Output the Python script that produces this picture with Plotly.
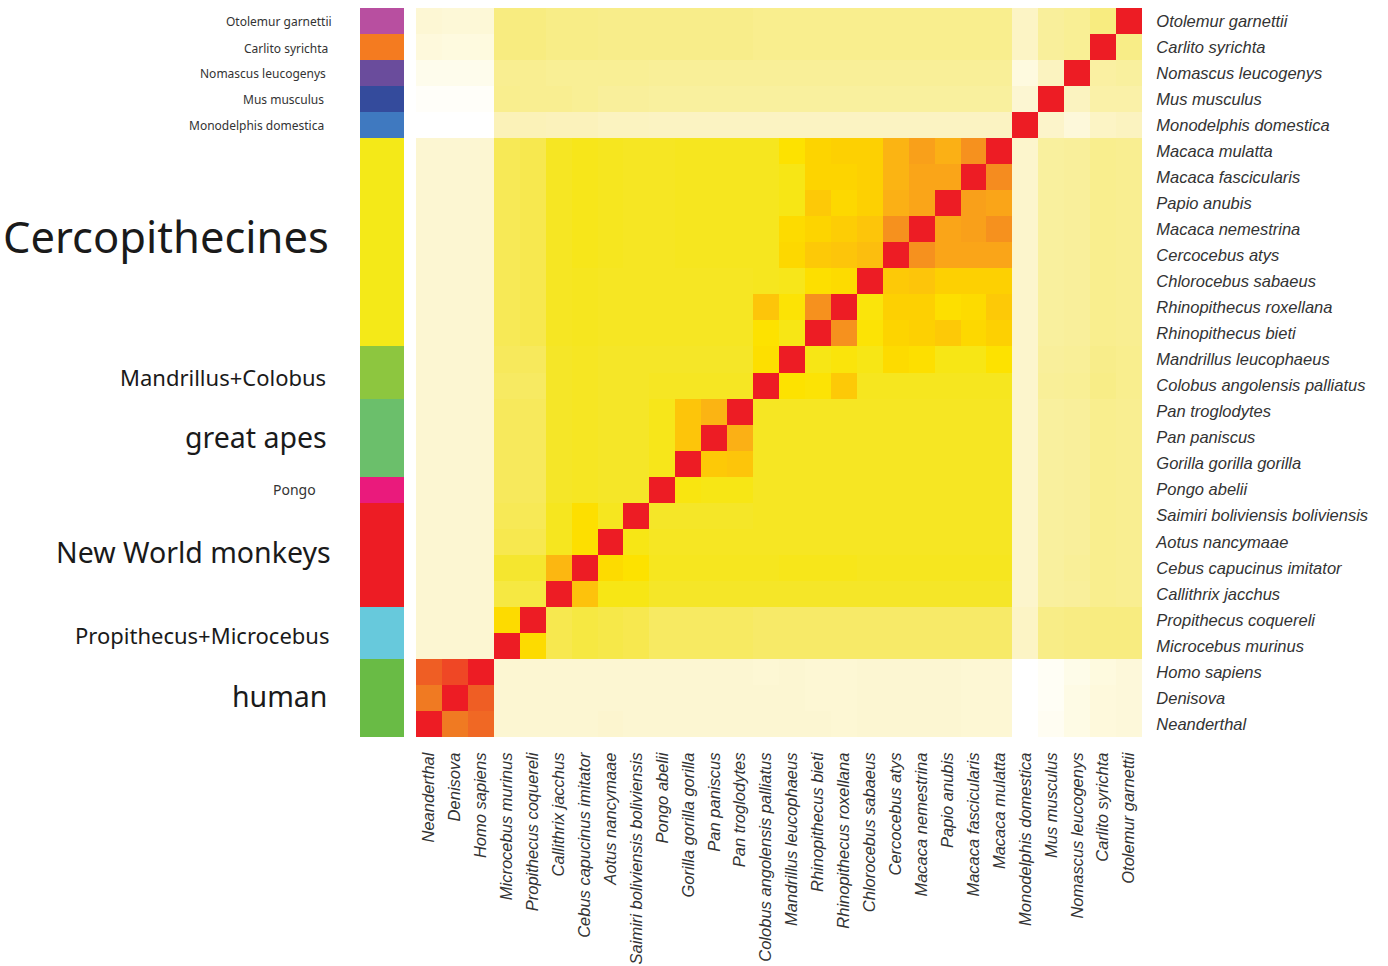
import plotly.graph_objects as go

# species order: columns left->right, rows bottom->top
species = [
    "Neanderthal", "Denisova", "Homo sapiens", "Microcebus murinus",
    "Propithecus coquereli", "Callithrix jacchus", "Cebus capucinus imitator",
    "Aotus nancymaae", "Saimiri boliviensis boliviensis", "Pongo abelii",
    "Gorilla gorilla gorilla", "Pan paniscus", "Pan troglodytes",
    "Colobus angolensis palliatus", "Mandrillus leucophaeus",
    "Rhinopithecus bieti", "Rhinopithecus roxellana", "Chlorocebus sabaeus",
    "Cercocebus atys", "Macaca nemestrina", "Papio anubis",
    "Macaca fascicularis", "Macaca mulatta", "Monodelphis domestica",
    "Mus musculus", "Nomascus leucogenys", "Carlito syrichta",
    "Otolemur garnettii",
]

# similarity matrix, row i = species[i] (bottom to top), column j = species[j]
similarity = [
    [1.00,0.89,0.91, 0.15,0.15, 0.15,0.15,0.16,0.15, 0.15,0.15,0.15,0.15, 0.15,0.15,0.15,0.14,0.15,0.15,0.15,0.15,0.14,0.14, 0.00,0.04,0.08,0.11,0.12],
    [0.89,1.00,0.92, 0.15,0.15, 0.15,0.15,0.15,0.15, 0.15,0.15,0.15,0.15, 0.15,0.15,0.14,0.14,0.15,0.15,0.15,0.15,0.14,0.14, 0.00,0.03,0.08,0.11,0.12],
    [0.92,0.94,1.00, 0.15,0.15, 0.15,0.15,0.15,0.15, 0.15,0.15,0.15,0.15, 0.14,0.15,0.14,0.14,0.15,0.15,0.15,0.15,0.14,0.14, 0.00,0.03,0.07,0.10,0.12],
    [0.15,0.15,0.15, 1.00,0.66, 0.50,0.52,0.51,0.50, 0.47,0.47,0.47,0.47, 0.46,0.46,0.46,0.46,0.46,0.46,0.46,0.46,0.46,0.46, 0.20,0.40,0.41,0.42,0.42],
    [0.15,0.15,0.15, 0.66,1.00, 0.50,0.52,0.51,0.50, 0.47,0.47,0.47,0.47, 0.46,0.46,0.46,0.46,0.46,0.46,0.46,0.46,0.46,0.46, 0.20,0.40,0.41,0.42,0.42],
    [0.15,0.15,0.15, 0.52,0.52, 1.00,0.73,0.60,0.60, 0.56,0.56,0.56,0.56, 0.56,0.56,0.56,0.56,0.56,0.56,0.56,0.56,0.56,0.56, 0.17,0.33,0.34,0.38,0.37],
    [0.15,0.15,0.15, 0.55,0.55, 0.76,1.00,0.66,0.64, 0.58,0.58,0.58,0.58, 0.58,0.59,0.59,0.59,0.58,0.58,0.58,0.58,0.58,0.58, 0.17,0.33,0.35,0.38,0.37],
    [0.15,0.15,0.15, 0.50,0.50, 0.58,0.65,1.00,0.60, 0.57,0.57,0.57,0.57, 0.57,0.57,0.57,0.57,0.57,0.57,0.57,0.57,0.57,0.57, 0.17,0.33,0.34,0.38,0.37],
    [0.15,0.15,0.15, 0.49,0.49, 0.58,0.65,0.58,1.00, 0.56,0.56,0.56,0.56, 0.57,0.57,0.57,0.57,0.57,0.57,0.57,0.57,0.57,0.57, 0.17,0.33,0.34,0.38,0.37],
    [0.15,0.15,0.15, 0.48,0.48, 0.56,0.57,0.56,0.56, 1.00,0.61,0.60,0.60, 0.57,0.57,0.57,0.57,0.57,0.57,0.57,0.57,0.57,0.57, 0.17,0.33,0.34,0.38,0.37],
    [0.15,0.15,0.15, 0.48,0.48, 0.56,0.57,0.56,0.56, 0.59,1.00,0.71,0.72, 0.57,0.57,0.57,0.57,0.57,0.57,0.57,0.57,0.57,0.57, 0.17,0.33,0.34,0.38,0.37],
    [0.15,0.15,0.15, 0.48,0.48, 0.56,0.57,0.56,0.56, 0.59,0.72,1.00,0.78, 0.57,0.57,0.57,0.57,0.57,0.57,0.57,0.57,0.57,0.57, 0.17,0.33,0.34,0.38,0.37],
    [0.15,0.15,0.15, 0.48,0.48, 0.56,0.57,0.56,0.56, 0.59,0.72,0.77,1.00, 0.57,0.57,0.57,0.57,0.57,0.57,0.57,0.57,0.57,0.57, 0.17,0.33,0.34,0.38,0.37],
    [0.15,0.15,0.15, 0.47,0.47, 0.56,0.57,0.56,0.56, 0.57,0.57,0.57,0.57, 1.00,0.64,0.63,0.71,0.58,0.58,0.58,0.58,0.58,0.58, 0.17,0.35,0.36,0.40,0.38],
    [0.15,0.15,0.15, 0.48,0.48, 0.56,0.57,0.56,0.56, 0.56,0.56,0.56,0.56, 0.65,1.00,0.60,0.62,0.60,0.66,0.65,0.60,0.60,0.64, 0.17,0.34,0.35,0.39,0.38],
    [0.15,0.15,0.15, 0.49,0.50, 0.57,0.58,0.57,0.57, 0.57,0.57,0.57,0.57, 0.64,0.60,1.00,0.84,0.63,0.68,0.69,0.71,0.67,0.69, 0.17,0.33,0.34,0.38,0.37],
    [0.15,0.15,0.15, 0.49,0.50, 0.57,0.58,0.57,0.57, 0.57,0.57,0.57,0.57, 0.72,0.63,0.84,1.00,0.62,0.69,0.69,0.65,0.66,0.71, 0.17,0.33,0.34,0.38,0.37],
    [0.15,0.15,0.15, 0.49,0.50, 0.57,0.58,0.57,0.57, 0.57,0.57,0.57,0.57, 0.58,0.59,0.65,0.66,1.00,0.71,0.72,0.69,0.69,0.69, 0.17,0.33,0.34,0.38,0.37],
    [0.15,0.15,0.15, 0.49,0.50, 0.57,0.59,0.58,0.57, 0.57,0.58,0.58,0.58, 0.58,0.67,0.71,0.72,0.74,1.00,0.84,0.80,0.80,0.80, 0.17,0.33,0.34,0.38,0.37],
    [0.15,0.15,0.15, 0.49,0.50, 0.57,0.59,0.58,0.57, 0.57,0.58,0.58,0.58, 0.58,0.66,0.68,0.70,0.72,0.84,1.00,0.80,0.81,0.84, 0.17,0.33,0.34,0.38,0.37],
    [0.15,0.15,0.15, 0.49,0.50, 0.57,0.59,0.58,0.57, 0.57,0.58,0.58,0.58, 0.58,0.60,0.71,0.67,0.69,0.78,0.80,1.00,0.81,0.80, 0.17,0.33,0.34,0.38,0.37],
    [0.15,0.15,0.15, 0.49,0.50, 0.57,0.59,0.58,0.57, 0.57,0.58,0.58,0.58, 0.58,0.60,0.68,0.68,0.69,0.77,0.80,0.80,1.00,0.85, 0.17,0.33,0.34,0.38,0.37],
    [0.15,0.15,0.15, 0.49,0.50, 0.57,0.59,0.58,0.57, 0.57,0.58,0.58,0.58, 0.58,0.64,0.68,0.69,0.69,0.77,0.81,0.78,0.84,1.00, 0.17,0.33,0.34,0.38,0.37],
    [0.00,0.00,0.00, 0.25,0.25, 0.24,0.24,0.22,0.22, 0.21,0.21,0.21,0.21, 0.21,0.21,0.21,0.21,0.21,0.21,0.21,0.21,0.21,0.21, 1.00,0.18,0.12,0.20,0.22],
    [0.02,0.02,0.02, 0.38,0.37, 0.37,0.36,0.34,0.34, 0.33,0.33,0.33,0.33, 0.33,0.33,0.33,0.33,0.33,0.33,0.33,0.33,0.33,0.33, 0.15,1.00,0.22,0.30,0.30],
    [0.06,0.06,0.06, 0.37,0.37, 0.36,0.36,0.36,0.36, 0.35,0.35,0.35,0.35, 0.35,0.35,0.35,0.35,0.35,0.35,0.35,0.35,0.35,0.35, 0.10,0.22,1.00,0.32,0.33],
    [0.11,0.10,0.10, 0.42,0.42, 0.40,0.40,0.39,0.39, 0.39,0.39,0.39,0.39, 0.38,0.38,0.38,0.38,0.38,0.38,0.38,0.38,0.38,0.38, 0.20,0.34,0.36,1.00,0.40],
    [0.14,0.13,0.13, 0.42,0.42, 0.40,0.40,0.39,0.39, 0.39,0.39,0.39,0.39, 0.38,0.38,0.38,0.38,0.38,0.38,0.38,0.38,0.38,0.38, 0.20,0.34,0.36,0.42,1.00],
]

# group annotation strip (per species, bottom to top)
group_of_species = [
    "human", "human", "human",
    "Propithecus+Microcebus", "Propithecus+Microcebus",
    "New World monkeys", "New World monkeys", "New World monkeys", "New World monkeys",
    "Pongo",
    "great apes", "great apes", "great apes",
    "Mandrillus+Colobus", "Mandrillus+Colobus",
    "Cercopithecines", "Cercopithecines", "Cercopithecines", "Cercopithecines",
    "Cercopithecines", "Cercopithecines", "Cercopithecines", "Cercopithecines",
    "Monodelphis domestica", "Mus musculus", "Nomascus leucogenys",
    "Carlito syrichta", "Otolemur garnettii",
]
group_names = [
    "human", "Propithecus+Microcebus", "New World monkeys", "Pongo", "great apes",
    "Mandrillus+Colobus", "Cercopithecines", "Monodelphis domestica",
    "Mus musculus", "Nomascus leucogenys", "Carlito syrichta", "Otolemur garnettii",
]
group_colors = [
    "#69bb45", "#67c9dc", "#ed1c24", "#ea1a7c", "#6bbf6b",
    "#8dc63f", "#f4e918", "#3f79c0", "#344b9c", "#6a4c9c", "#f47b20", "#b84fa0",
]
group_label_sizes = [28.5, 22, 28.5, 14, 28.5, 22, 43.5, 12, 12, 12, 12, 12]
group_label_right = [329, 331, 333, 318, 329, 328, 331, 326, 326, 328, 330, 334]
group_label_shift = [2, -2, 3, 0, 1, -4, 6, 0, 0, 0, -1, 0]

colorscale = [
    [0.00, "#ffffff"], [0.10, "#fefadf"], [0.16, "#fcf5cf"], [0.25, "#fbf2b8"],
    [0.35, "#f9ef98"], [0.42, "#f8ec80"], [0.48, "#f7e95c"], [0.56, "#f5e628"],
    [0.60, "#f7e615"], [0.64, "#fde200"], [0.68, "#fdd400"], [0.72, "#fdc50a"],
    [0.78, "#fbb015"], [0.81, "#f9a01a"], [0.85, "#f58c1f"], [0.89, "#f07a22"],
    [0.93, "#ef5525"], [0.97, "#ed1c24"], [1.00, "#ed1c24"],
]

W, H = 1388, 966
fig = go.Figure()

fig.add_trace(go.Heatmap(
    z=similarity, x=species, y=species,
    colorscale=colorscale, zmin=0, zmax=1, showscale=False,
    xaxis="x", yaxis="y", hoverinfo="x+y+z",
))

color_map = dict(zip(group_names, group_colors))
fig.add_trace(go.Bar(
    y=species, x=[1] * len(species), orientation="h", width=1,
    marker=dict(color=[color_map[g] for g in group_of_species], line=dict(width=0)),
    xaxis="x2", yaxis="y", showlegend=False, hoverinfo="y",
))

# group labels centred on their rows
annotations = []
for name, size, xr, ys in zip(group_names, group_label_sizes, group_label_right, group_label_shift):
    idx = [i for i, g in enumerate(group_of_species) if g == name]
    center = (min(idx) + max(idx)) / 2
    annotations.append(dict(
        x=xr / W, xref="paper", xanchor="right",
        y=center, yref="y", yanchor="middle", yshift=ys,
        text=name, showarrow=False,
        font=dict(family="Noto Sans", size=size,
                  color="#1a1a1a" if size >= 20 else "#333333"),
    ))

tickfont = dict(family="Liberation Sans", size=16.5, color="#333333", style="italic")

fig.update_layout(
    width=W, height=H,
    margin=dict(l=0, r=0, t=8, b=229),
    paper_bgcolor="white", plot_bgcolor="white",
    bargap=0,
    annotations=annotations,
    xaxis=dict(
        domain=[416 / W, 1142 / W], anchor="y",
        categoryorder="array", categoryarray=species,
        tickangle=-90, tickfont=tickfont,
        ticks="outside", ticklen=8, tickcolor="rgba(0,0,0,0)",
        showgrid=False, zeroline=False, showline=False,
    ),
    xaxis2=dict(
        domain=[360 / W, 404 / W], anchor="y", range=[0, 1],
        showticklabels=False, showgrid=False, zeroline=False, showline=False,
    ),
    yaxis=dict(
        side="right", anchor="x",
        categoryorder="array", categoryarray=species,
        tickfont=tickfont,
        ticks="outside", ticklen=10, tickcolor="rgba(0,0,0,0)",
        showgrid=False, zeroline=False, showline=False,
    ),
)

fig.write_html("out.html")
